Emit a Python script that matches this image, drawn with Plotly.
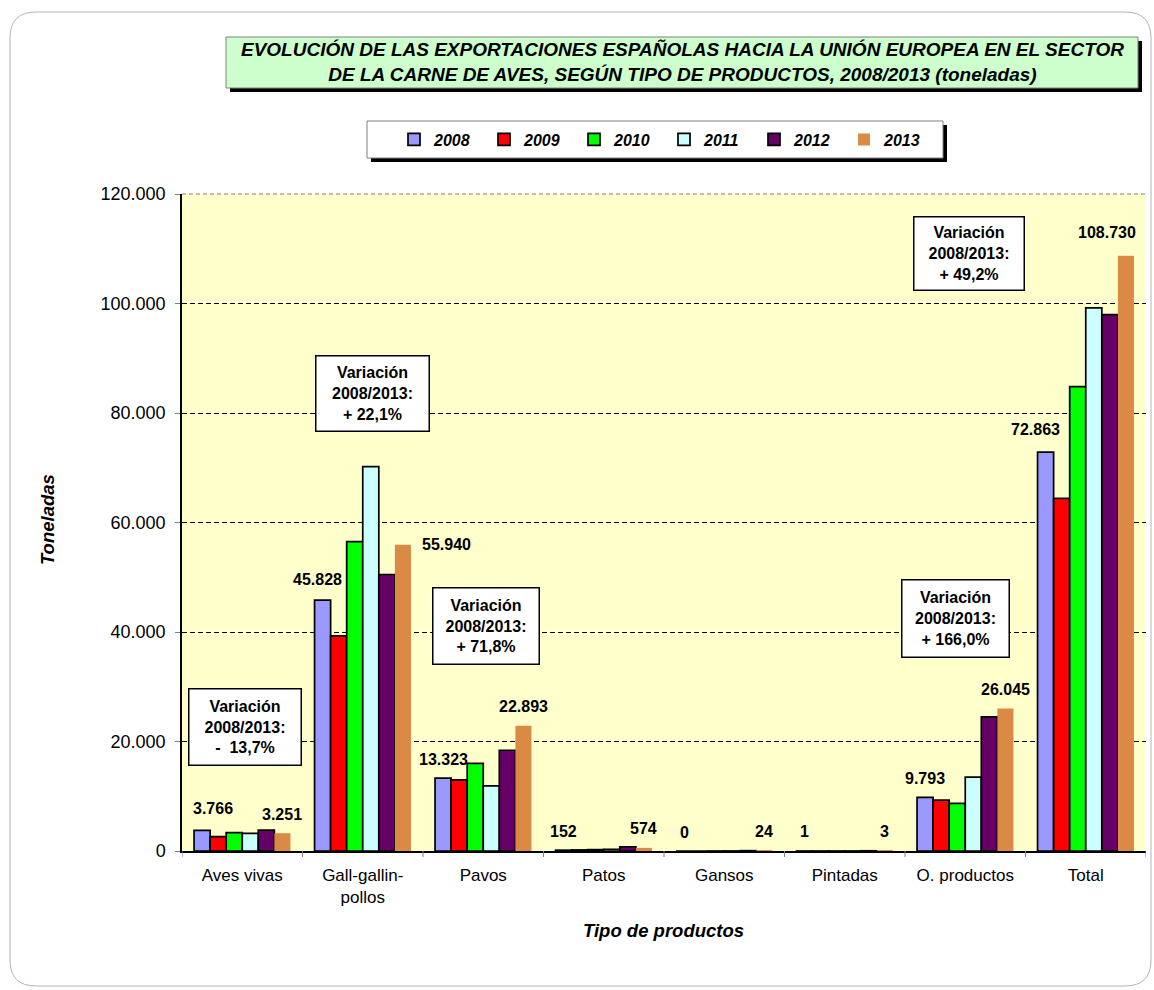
import plotly.graph_objects as go

# ---------------- data ----------------
categories = ["Aves vivas", "Gall-gallin-<br>pollos", "Pavos", "Patos", "Gansos",
              "Pintadas", "O. productos", "Total"]
years = ["2008", "2009", "2010", "2011", "2012", "2013"]
v2008 = [3766, 45828, 13323, 152, 0, 1, 9793, 72863]
v2009 = [2620, 39300, 13000, 200, 0, 2, 9300, 64420]
v2010 = [3350, 56500, 16000, 250, 2, 3, 8700, 84800]
v2011 = [3230, 70200, 11900, 320, 10, 5, 13500, 99200]
v2012 = [3800, 50500, 18400, 780, 60, 40, 24500, 97950]
v2013 = [3251, 55940, 22893, 574, 24, 3, 26045, 108730]
variation = ["-  13,7%", "+ 22,1%", "+ 71,8%", None, None, None, "+ 166,0%", "+ 49,2%"]
y_ticks = [0, 20000, 40000, 60000, 80000, 100000, 120000]

series = [v2008, v2009, v2010, v2011, v2012, v2013]
colors = ["#9999FF", "#FF0000", "#00FF00", "#CCFFFF", "#660066", "#DA8A45"]
line_w = [1.7, 1.7, 1.7, 1.7, 1.7, 0]

FONT = "Liberation Sans, Arial, sans-serif"
W, H = 1154, 990
PL, PR, PT, PB = 182, 1146, 194, 851
BARGAP = 0.2


def px(x):
    return (x - PL) / (PR - PL)


def py(y):
    return (PB - y) / (PB - PT)


fig = go.Figure()
for name, vals, c, lw in zip(years, series, colors, line_w):
    fig.add_trace(go.Bar(
        name=name, x=list(range(len(categories))), y=vals,
        marker=dict(color=c, line=dict(color="black", width=lw)),
    ))

# data labels (first and last year)
bw = (1 - BARGAP) / len(years)
label_shift = {(0, 0): (11, 22), (1, 0): (-5, 21), (1, 5): (44, 0),
               (7, 0): (-10, 23), (7, 5): (-19, 23)}
annotations = []
for k in (0, 5):
    for i, v in enumerate(series[k]):
        dx, dy = label_shift.get((i, k), (0, 19))
        annotations.append(dict(
            x=i + (k - 2.5) * bw, y=v, xref="x", yref="y",
            text=f"{v:,}".replace(",", "."), showarrow=False,
            xanchor="center", yanchor="middle", xshift=dx, yshift=dy,
            font=dict(family=FONT, size=16, color="black", weight="bold"),
        ))

# variation boxes (pixel boxes)
var_boxes = {0: (188, 688, 302, 766), 1: (315, 355, 430, 432), 2: (432, 587, 540, 665),
             6: (901, 579, 1010, 658), 7: (913, 216, 1025, 291)}
for i, (x0, y0, x1, y1) in var_boxes.items():
    annotations.append(dict(
        x=px((x0 + x1) / 2), y=py((y0 + y1) / 2), xref="paper", yref="paper",
        text=f"Variación<br>2008/2013:<br>{variation[i]}", showarrow=False,
        xanchor="center", yanchor="middle", align="center",
        width=x1 - x0 - 3, height=y1 - y0 - 3, borderpad=0,
        bgcolor="white", bordercolor="black", borderwidth=1.5,
        font=dict(family=FONT, size=16, color="black", weight="bold"),
    ))

# title
annotations.append(dict(
    x=px(682), y=py(61.5), xref="paper", yref="paper", showarrow=False,
    xanchor="center", yanchor="middle", align="center",
    text="EVOLUCIÓN DE LAS EXPORTACIONES ESPAÑOLAS HACIA LA UNIÓN EUROPEA EN EL SECTOR<br>"
         "DE LA CARNE DE AVES, SEGÚN TIPO DE PRODUCTOS, 2008/2013 (toneladas)",
    font=dict(family=FONT, size=19, color="black", weight="bold", style="italic"),
))
# axis titles
annotations.append(dict(
    x=px(47), y=py(520), xref="paper", yref="paper", showarrow=False,
    text="Toneladas", textangle=-90, xanchor="center", yanchor="middle",
    font=dict(family=FONT, size=18.5, color="black", weight="bold", style="italic"),
))
annotations.append(dict(
    x=px(663), y=py(930), xref="paper", yref="paper", showarrow=False,
    text="Tipo de productos", xanchor="center", yanchor="middle",
    font=dict(family=FONT, size=18.5, color="black", weight="bold", style="italic"),
))

shapes = []
# outer rounded frame
r = 26
x0, y0, x1, y1 = 10, 12, 1151, 986
path = (f"M {px(x0+r)},{py(y0)} L {px(x1-r)},{py(y0)} Q {px(x1)},{py(y0)} {px(x1)},{py(y0+r)} "
        f"L {px(x1)},{py(y1-r)} Q {px(x1)},{py(y1)} {px(x1-r)},{py(y1)} "
        f"L {px(x0+r)},{py(y1)} Q {px(x0)},{py(y1)} {px(x0)},{py(y1-r)} "
        f"L {px(x0)},{py(y0+r)} Q {px(x0)},{py(y0)} {px(x0+r)},{py(y0)} Z")
shapes.append(dict(type="path", xref="paper", yref="paper", path=path,
                   line=dict(color="#B4B4B4", width=1), layer="below"))


def box(x0, y0, x1, y1, fill, border):
    shapes.append(dict(type="rect", xref="paper", yref="paper",
                       x0=px(x0 + 4), x1=px(x1 + 4), y0=py(y0 + 4), y1=py(y1 + 4),
                       fillcolor="black", line=dict(width=0), layer="above"))
    shapes.append(dict(type="rect", xref="paper", yref="paper",
                       x0=px(x0), x1=px(x1), y0=py(y0), y1=py(y1),
                       fillcolor=fill, line=dict(color=border, width=1), layer="above"))


box(226, 37, 1138, 88, "#CCFFCC", "#808080")
box(367, 121, 943, 158, "white", "#808080")

# top border of plot area (grey dashed)
shapes.append(dict(type="line", xref="paper", yref="paper", x0=0, x1=1, y0=1, y1=1,
                   line=dict(color="#808080", width=1, dash="4px,3px")))

fig.update_layout(
    width=W, height=H,
    margin=dict(l=PL, r=W - PR, t=PT, b=H - PB, pad=0),
    paper_bgcolor="white", plot_bgcolor="#FFFFCC",
    barmode="group", bargap=BARGAP, bargroupgap=0,
    separators=",.",
    font=dict(family=FONT, color="black"),
    showlegend=True,
    legend=dict(orientation="h", x=px(394), y=py(139.5), xanchor="left", yanchor="middle",
                bgcolor="rgba(0,0,0,0)", borderwidth=0, entrywidth=45,
                entrywidthmode="pixels", traceorder="normal",
                font=dict(family=FONT, size=16, color="black", weight="bold", style="italic")),
    xaxis=dict(
        tickmode="array", tickvals=list(range(len(categories))), ticktext=categories,
        range=[-0.5, len(categories) - 0.5],
        showline=True, linecolor="black", linewidth=1.5,
        ticks="", showgrid=False, zeroline=False,
        tickfont=dict(family=FONT, size=17, color="black"), ticklabelstandoff=8,
    ),
    yaxis=dict(
        range=[0, 120000], tickvals=y_ticks, tickformat=",d",
        showline=True, linecolor="black", linewidth=1.5,
        ticks="outside", ticklen=5, tickcolor="#808080",
        showgrid=True, gridcolor="black", griddash="5px,3px", gridwidth=1.3,
        zeroline=False,
        tickfont=dict(family=FONT, size=18, color="black"), ticklabelstandoff=6,
    ),
    annotations=annotations, shapes=shapes,
)
# category boundary ticks on x axis
for b in range(len(categories) + 1):
    shapes.append(dict(type="line", xref="x", yref="paper", x0=b - 0.5, x1=b - 0.5,
                       y0=0, y1=-6 / (PB - PT), line=dict(color="#808080", width=1)))
fig.update_layout(shapes=shapes)

fig.write_html("out.html", config={"displayModeBar": False},
               post_script="document.body.style.margin='0';")
